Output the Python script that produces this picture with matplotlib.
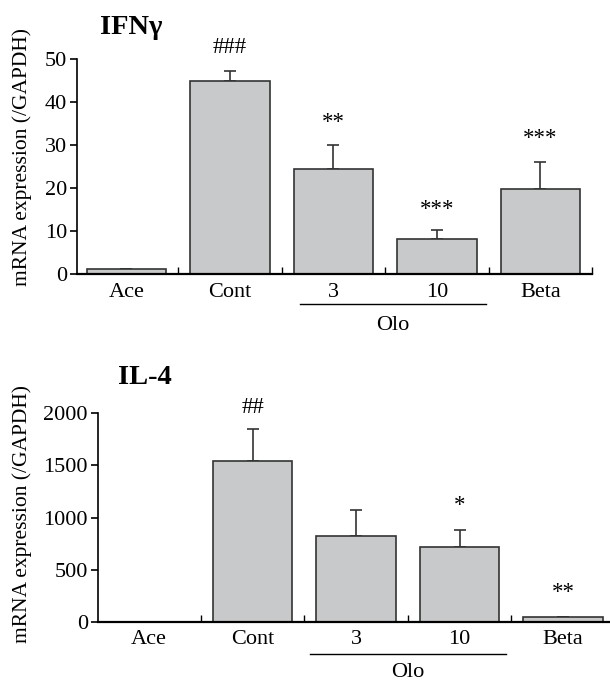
import matplotlib
matplotlib.use("Agg")
import matplotlib.pyplot as plt
import matplotlib.transforms as mtransforms

plt.rcParams["font.family"] = ["Liberation Serif", "DejaVu Serif"]

# data
groups = ["Ace", "Cont", "3", "10", "Beta"]

ifn_mean = [1.1, 44.8, 24.5, 8.2, 19.8]
ifn_err = [0.0, 2.3, 5.6, 2.0, 6.2]
ifn_marks = ["", "###", "**", "***", "***"]
ifn_mark_y = [0, 52.6, 35.3, 14.9, 31.6]

il4_mean = [0, 1543, 821, 722, 45]
il4_err = [0, 309, 249, 160, 0]
il4_marks = ["", "##", "", "*", "**"]
il4_mark_y = [0, 2060, 0, 1115, 287]

BAR_FC = "#c8c9cb"
EDGE = "#333333"
W, H = 610, 684
FS = 16


def panel(rect, means, errs, marks, mark_y, ylim, yticks, xlim, title, title_xy,
          ylabel_xy, line_x, line_y, lab_dy, olo_dy):
    ax = plt.axes(rect)
    x = list(range(len(groups)))
    ax.bar(x, means, width=0.77, color=BAR_FC, edgecolor=EDGE, linewidth=1.2, zorder=2)
    ax.errorbar(x, means, yerr=[[0] * len(errs), errs], fmt="none", ecolor=EDGE,
                elinewidth=1.2, capsize=4, capthick=1.2, zorder=1)
    for xi, m, my in zip(x, marks, mark_y):
        if m:
            ax.text(xi, my, m, ha="center", va="center", fontsize=16.5, clip_on=False)

    ax.set_xlim(*xlim)
    ax.set_ylim(*ylim)
    ax.set_yticks(yticks)
    ax.spines[["top", "right"]].set_visible(False)
    ax.spines["left"].set_linewidth(1.2)
    ax.spines["bottom"].set_linewidth(1.6)
    ax.tick_params(axis="y", direction="out", length=5, width=1.2, labelsize=FS, pad=2)

    # group ticks sit between bars, pointing up
    ax.set_xticks([i + 0.5 for i in x if i + 0.5 <= xlim[1]])
    ax.set_xticklabels([])
    ax.tick_params(axis="x", direction="in", length=5, width=1.0)
    for xi, g in zip(x, groups):
        ax.annotate(g, (xi, 0), xycoords=("data", "axes fraction"),
                    xytext=(0, -lab_dy), textcoords="offset points",
                    ha="center", va="top", fontsize=FS)

    trans = mtransforms.blended_transform_factory(ax.transData, ax.transAxes)
    ax.plot(line_x, [line_y, line_y], color="black", lw=1.0, transform=trans, clip_on=False)
    ax.annotate("Olo", (sum(line_x) / 2, line_y), xycoords=trans,
                xytext=(0, -olo_dy), textcoords="offset points",
                ha="center", va="top", fontsize=FS)

    fig.text(title_xy[0] / W, 1 - title_xy[1] / H, title, fontsize=20.5,
             fontweight="bold", ha="left", va="center")
    fig.text(ylabel_xy[0] / W, 1 - ylabel_xy[1] / H, "mRNA expression (/GAPDH)",
             rotation=90, ha="center", va="center", fontsize=15.5)
    return ax


fig = plt.figure(figsize=(W / 100, H / 100), dpi=100)

panel([76.7 / W, 1 - 274 / H, 515.4 / W, 215 / H], ifn_mean, ifn_err, ifn_marks,
      ifn_mark_y, (0, 50), [0, 10, 20, 30, 40, 50], (-0.48, 4.5), "IFNγ", (100, 28),
      (22, 157), [1.676, 3.473], -0.1387, 6.5, 9)

panel([97.7 / W, 1 - 622 / H, 512.3 / W, 208.7 / H], il4_mean, il4_err, il4_marks,
      il4_mark_y, (0, 2000), [0, 500, 1000, 1500, 2000], (-0.496, 4.454), "IL-4",
      (118, 377), (22, 514), [1.556, 3.449], -0.152, 6, 6.5)

fig.savefig("out.png", dpi=100)
